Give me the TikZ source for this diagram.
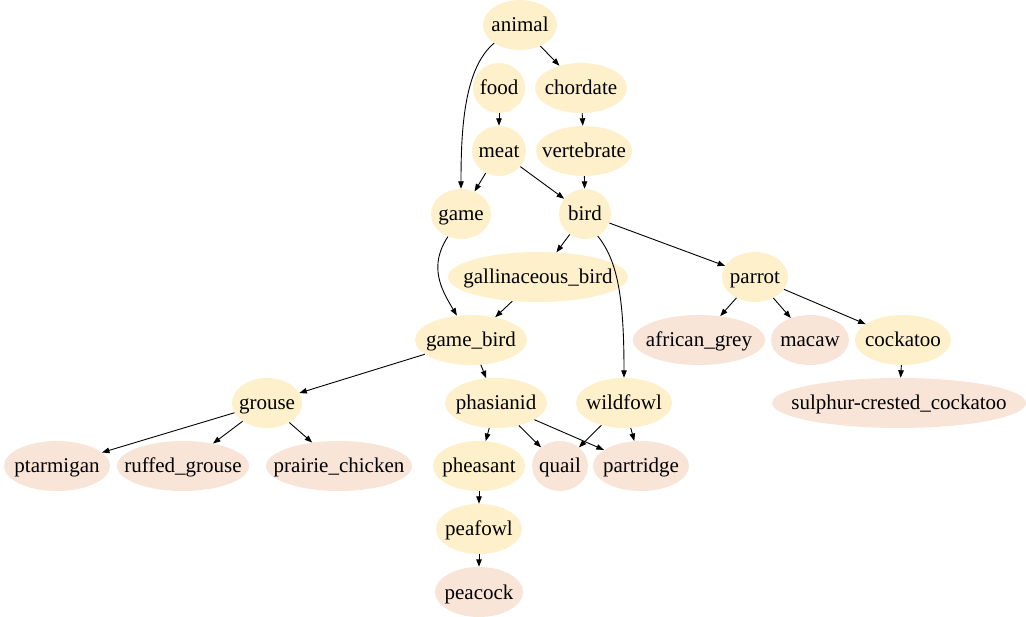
\documentclass[tikz,border=0pt]{standalone}
\usepackage{fontspec}
\setmainfont{Liberation Serif}
\usetikzlibrary{shapes.geometric,arrows.meta}
\definecolor{ynode}{HTML}{FEF0CA}
\definecolor{pnode}{HTML}{F9E4D8}
\newcommand{\lbl}[1]{\makebox[0pt]{#1}}
\tikzset{
  nd/.style={ellipse, inner sep=0pt, minimum height=50pt, text height=16pt, text depth=2pt, font=\fontsize{21}{22}\selectfont},
  yn/.style={nd, fill=ynode},
  pn/.style={nd, fill=pnode},
  edge/.style={draw=black, line width=0.9pt, -{Triangle[length=7.5pt,width=5.5pt]}}
}
\begin{document}
\begin{tikzpicture}[x=1pt,y=-1pt]
\useasboundingbox (0,0) rectangle (1026,617);
\node[yn, minimum width=74pt] (animal) at (520,25) {\lbl{animal}};
\node[yn, minimum width=52pt] (food) at (499,88) {\lbl{food}};
\node[yn, minimum width=92pt] (chordate) at (581,88) {\lbl{chordate}};
\node[yn, minimum width=54pt] (meat) at (499,151) {\lbl{meat}};
\node[yn, minimum width=96pt] (vertebrate) at (584,151) {\lbl{vertebrate}};
\node[yn, minimum width=60pt] (game) at (461,214) {\lbl{game}};
\node[yn, minimum width=52pt] (bird) at (585,214) {\lbl{bird}};
\node[yn, minimum width=180pt] (gallinaceous) at (538,277) {\lbl{gallinaceous\_bird}};
\node[yn, minimum width=66pt] (parrot) at (755,277) {\lbl{parrot}};
\node[yn, minimum width=112pt] (gamebird) at (471,340) {\lbl{game\_bird}};
\node[pn, minimum width=132pt] (africangrey) at (699,340) {\lbl{african\_grey}};
\node[pn, minimum width=78pt] (macaw) at (810,340) {\lbl{macaw}};
\node[yn, minimum width=96pt] (cockatoo) at (903,340) {\lbl{cockatoo}};
\node[yn, minimum width=70pt] (grouse) at (267,403) {\lbl{grouse}};
\node[yn, minimum width=102pt] (phasianid) at (496,403) {\lbl{phasianid}};
\node[yn, minimum width=96pt] (wildfowl) at (624,403) {\lbl{wildfowl}};
\node[pn, minimum width=254pt] (sulphur) at (899,403) {\lbl{sulphur-crested\_cockatoo}};
\node[pn, minimum width=106pt] (ptarmigan) at (57,466) {\lbl{ptarmigan}};
\node[pn, minimum width=132pt] (ruffed) at (183,466) {\lbl{ruffed\_grouse}};
\node[pn, minimum width=146pt] (prairie) at (339,466) {\lbl{prairie\_chicken}};
\node[yn, minimum width=92pt] (pheasant) at (479,466) {\lbl{pheasant}};
\node[pn, minimum width=56pt] (quail) at (560,466) {\lbl{quail}};
\node[pn, minimum width=96pt] (partridge) at (641,466) {\lbl{partridge}};
\node[yn, minimum width=86pt] (peafowl) at (479,529) {\lbl{peafowl}};
\node[pn, minimum width=88pt] (peacock) at (479,592) {\lbl{peacock}};

\draw[edge] (animal.215) .. controls +(-30,25) and +(0,-60) .. (game.north);
\draw[edge] (animal) -- (chordate);
\draw[edge] (food) -- (meat);
\draw[edge] (chordate) -- (vertebrate);
\draw[edge] (vertebrate) -- (bird);
\draw[edge] (meat) -- (game);
\draw[edge] (meat) -- (bird);
\draw[edge] (game.240) .. controls +(-20,30) and +(-15,-25) .. (gamebird.120);
\draw[edge] (bird) -- (gallinaceous);
\draw[edge] (bird) -- (parrot);
\draw[edge] (bird.300) .. controls +(20,25) and +(0,-80) .. (wildfowl.north);
\draw[edge] (gallinaceous) -- (gamebird);
\draw[edge] (parrot) -- (africangrey);
\draw[edge] (parrot) -- (macaw);
\draw[edge] (parrot) -- (cockatoo);
\draw[edge] (cockatoo) -- (sulphur);
\draw[edge] (gamebird) -- (grouse);
\draw[edge] (gamebird) -- (phasianid);
\draw[edge] (grouse) -- (ptarmigan);
\draw[edge] (grouse) -- (ruffed);
\draw[edge] (grouse) -- (prairie);
\draw[edge] (phasianid) -- (pheasant);
\draw[edge] (phasianid) -- (quail);
\draw[edge] (phasianid) -- (partridge);
\draw[edge] (wildfowl) -- (quail);
\draw[edge] (wildfowl) -- (partridge);
\draw[edge] (pheasant) -- (peafowl);
\draw[edge] (peafowl) -- (peacock);
\end{tikzpicture}
\end{document}
